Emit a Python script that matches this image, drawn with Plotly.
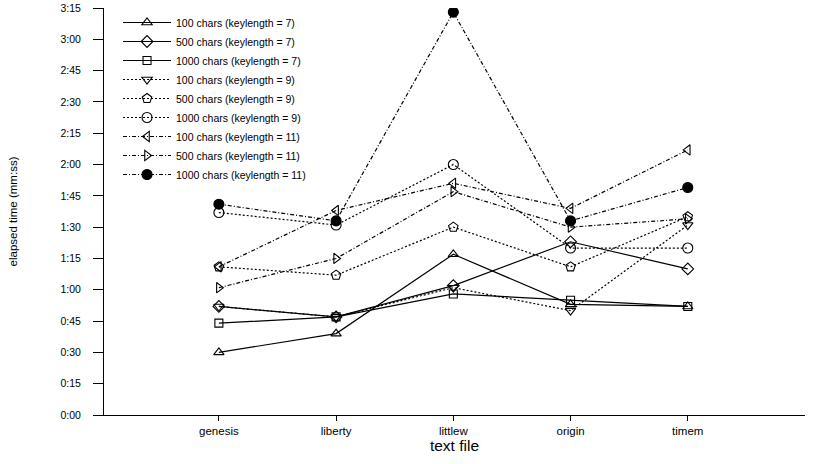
import plotly.graph_objects as go

categories = ["genesis", "liberty", "littlew", "origin", "timem"]

# elapsed time in seconds
kl7_100 = [30, 39, 77, 53, 52]
kl7_500 = [52, 47, 62, 83, 70]
kl7_1000 = [44, 47, 58, 55, 52]
kl9_100 = [52, 47, 61, 50, 91]
kl9_500 = [71, 67, 90, 71, 95]
kl9_1000 = [97, 91, 120, 80, 80]
kl11_100 = [71, 98, 111, 99, 127]
kl11_500 = [61, 75, 107, 90, 94]
kl11_1000 = [101, 93, 193, 93, 109]

names = [
    "100 chars (keylength = 7)", "500 chars (keylength = 7)", "1000 chars (keylength = 7)",
    "100 chars (keylength = 9)", "500 chars (keylength = 9)", "1000 chars (keylength = 9)",
    "100 chars (keylength = 11)", "500 chars (keylength = 11)", "1000 chars (keylength = 11)",
]
series = [kl7_100, kl7_500, kl7_1000, kl9_100, kl9_500, kl9_1000, kl11_100, kl11_500, kl11_1000]
symbols = ["triangle-up-open", "diamond-open", "square-open",
           "triangle-down-open", "pentagon-open", "circle-open",
           "triangle-left-open", "triangle-right-open", "circle"]
sizes = [9, 9, 8, 9, 10, 10, 9, 9, 10]
dashes = ["solid"] * 3 + ["2px,2px"] * 3 + ["4px,2px,1px,2px"] * 3

yticks = list(range(0, 196, 15))
yticklabels = ["%d:%02d" % (v // 60, v % 60) for v in yticks]

xpos = list(range(1, len(categories) + 1))

fig = go.Figure()
for name, vals, sym, sz, dash in zip(names, series, symbols, sizes, dashes):
    fig.add_trace(go.Scatter(
        x=xpos, y=vals, name=name, mode="lines+markers",
        line=dict(color="black", width=1.2, dash=dash),
        marker=dict(symbol=sym, size=sz, color="black",
                    line=dict(color="black", width=1.1)),
    ))

fig.update_layout(
    width=818, height=464,
    margin=dict(l=104, r=13, t=8, b=49),
    paper_bgcolor="white", plot_bgcolor="white",
    font=dict(family="Liberation Sans, Arial, sans-serif", color="black"),
    showlegend=True,
    legend=dict(x=0.02, y=1.0, xanchor="left", yanchor="top",
                bgcolor="rgba(0,0,0,0)", font=dict(size=10.5),
                tracegroupgap=0, itemwidth=48),
)
fig.update_xaxes(
    range=[0.02, 6], tickvals=xpos, ticktext=categories, automargin=False,
    showgrid=False, zeroline=False, showline=True, linecolor="black", linewidth=1,
    ticks="outside", ticklen=5, tickcolor="black", tickfont=dict(size=11.5),
    title=dict(text="text file", font=dict(size=15.5), standoff=2),
)
fig.update_yaxes(
    range=[0, 195], tickvals=yticks, ticktext=yticklabels, automargin=False,
    showgrid=False, zeroline=False, showline=True, linecolor="black", linewidth=1,
    ticks="outside", ticklen=10, tickcolor="black", tickfont=dict(size=10.5),
    ticklabelstandoff=10,
    title=dict(text="elapsed time (mm:ss)", font=dict(size=11.5), standoff=40),
)

fig.write_html("out.html")
